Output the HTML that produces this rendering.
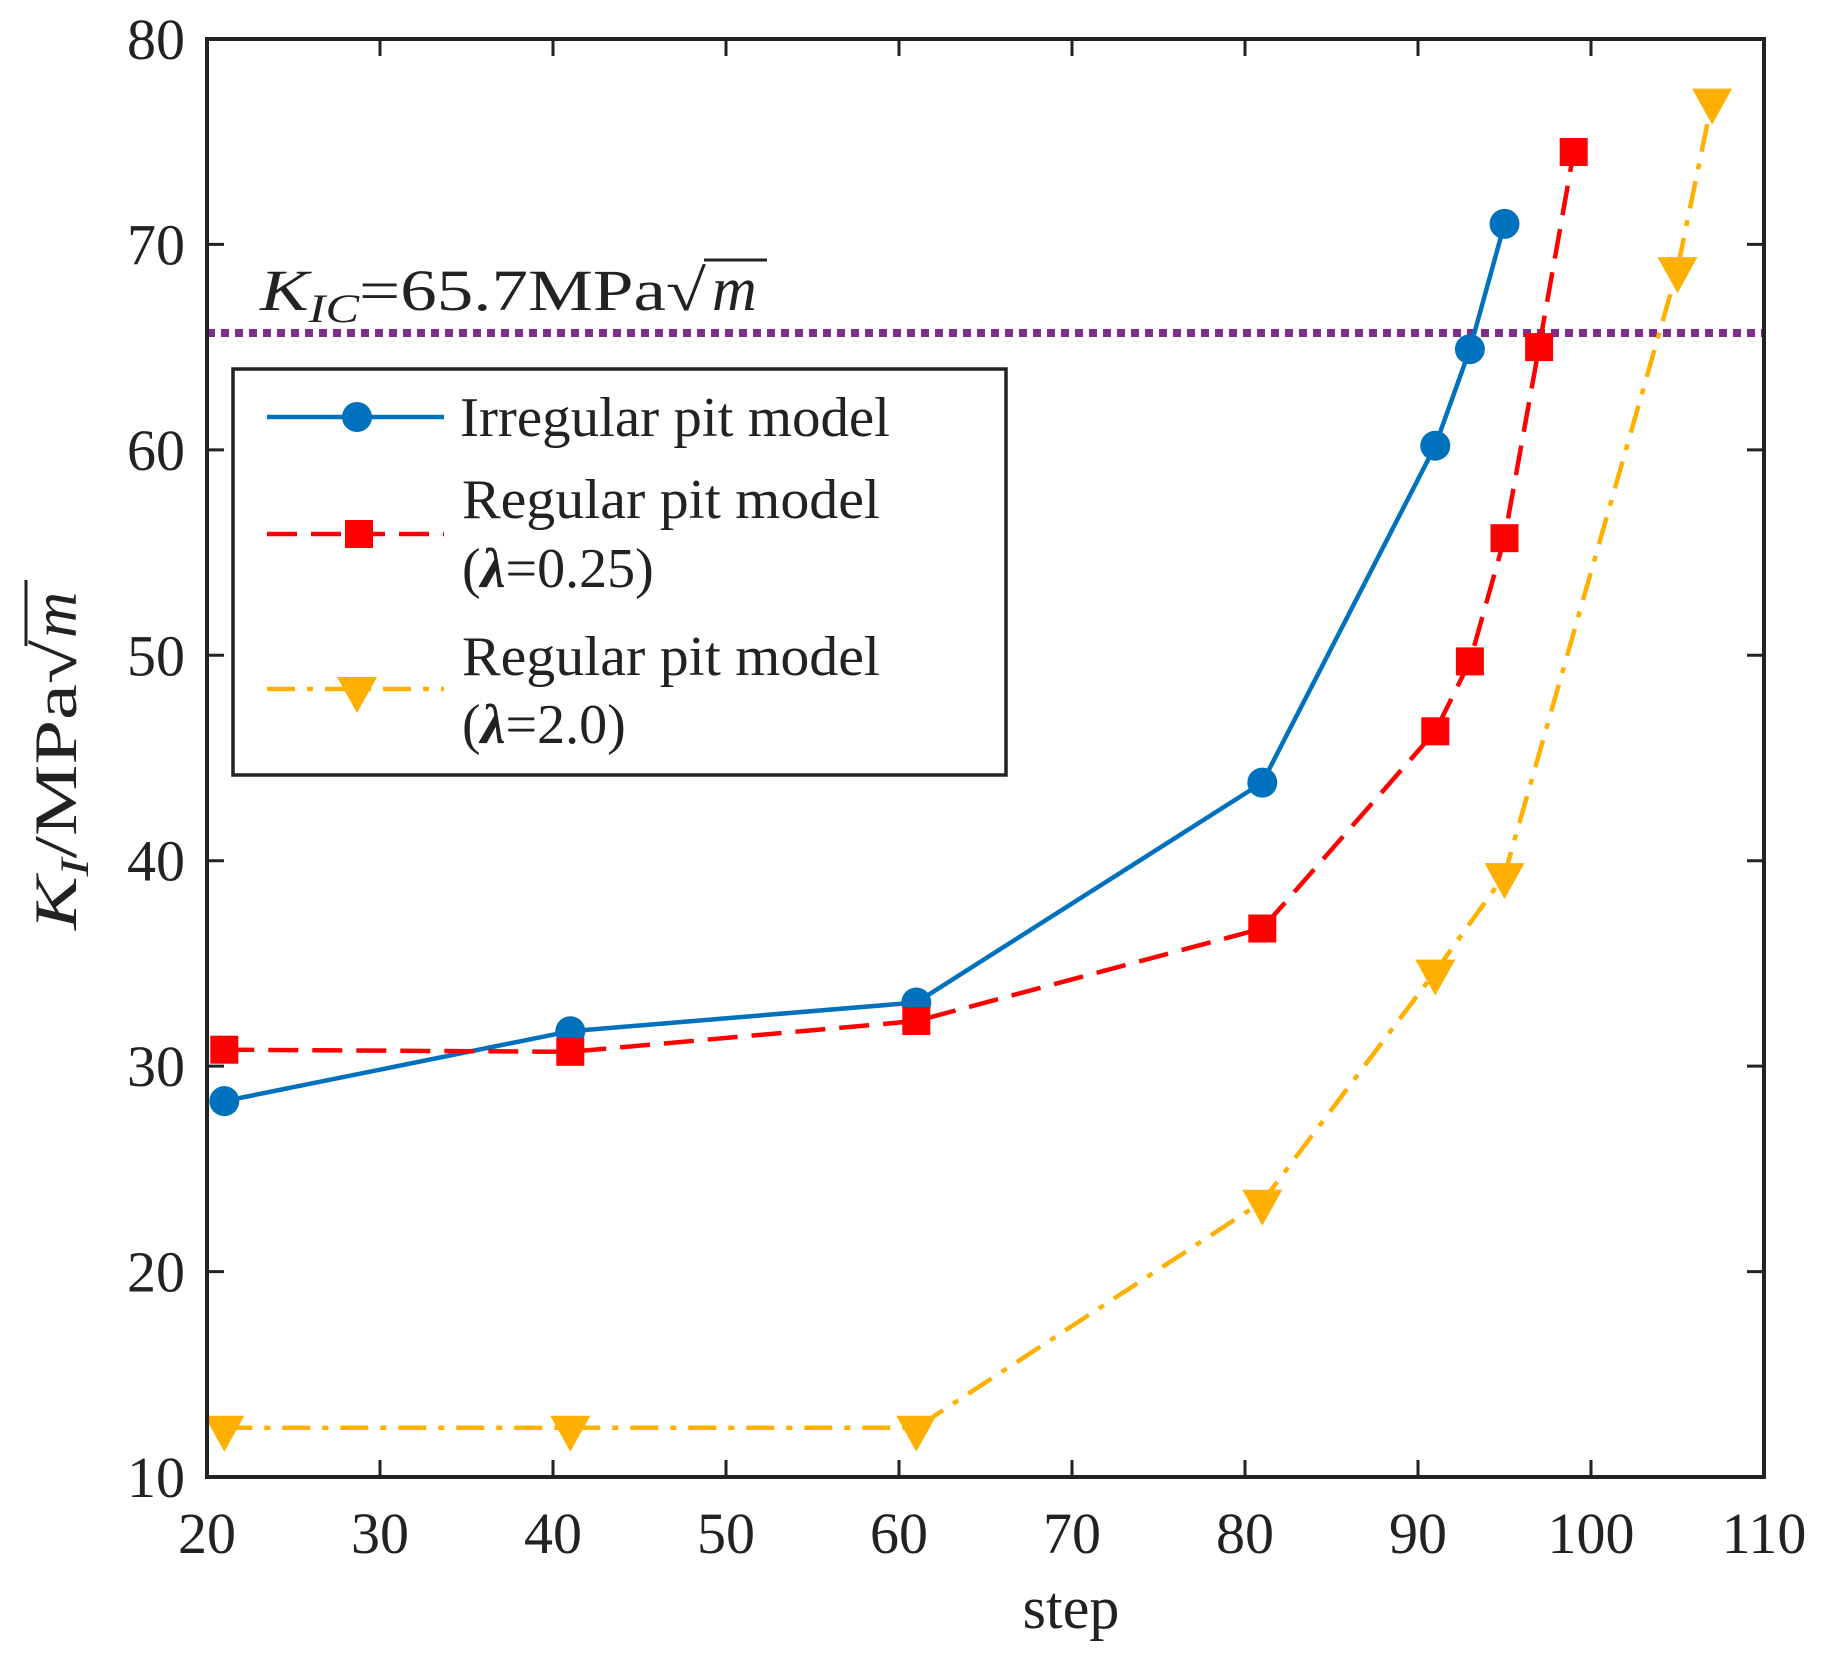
<!DOCTYPE html>
<html><head><meta charset="utf-8"><style>
html,body{margin:0;padding:0;background:#fff;}
svg{display:block;}
text{font-family:"Liberation Serif",serif;fill:#222;}
</style></head><body>
<svg width="1822" height="1656" viewBox="0 0 1822 1656" xmlns="http://www.w3.org/2000/svg">
<rect width="1822" height="1656" fill="#fff"/>
<line x1="207" y1="333" x2="1764" y2="333" stroke="#7E2F8E" stroke-width="8" stroke-dasharray="8 6"/>
<polyline fill="none" stroke="#0072BD" stroke-width="4.5" points="224.3,1101.1 570.3,1031.2 916.3,1002.5 1262.3,782.6 1435.3,445.7 1469.9,349.2 1504.5,223.9"/>
<polyline fill="none" stroke="#FF0000" stroke-width="4.5" stroke-dasharray="30 14" points="224.3,1049.7 570.3,1051.8 916.3,1021 1262.3,928.5 1435.3,731.3 1469.9,661.4 1504.5,538.2 1539.1,347.1 1573.7,152"/>
<polyline fill="none" stroke="#FFB000" stroke-width="4.5" stroke-dasharray="28 12 6 12" points="224.3,1427.7 570.3,1427.7 916.3,1427.7 1262.3,1201.7 1435.3,971.6 1504.5,875.1 1677.5,269.1 1712.1,100.6"/>
<g fill="#0072BD">
<circle cx="224.3" cy="1101.1" r="15"/><circle cx="570.3" cy="1031.2" r="15"/><circle cx="916.3" cy="1002.5" r="15"/><circle cx="1262.3" cy="782.6" r="15"/><circle cx="1435.3" cy="445.7" r="15"/><circle cx="1469.9" cy="349.2" r="15"/><circle cx="1504.5" cy="223.9" r="15"/>
</g>
<g fill="#FF0000">
<rect x="210.3" y="1035.7" width="28" height="28"/><rect x="556.3" y="1037.8" width="28" height="28"/><rect x="902.3" y="1007" width="28" height="28"/><rect x="1248.3" y="914.5" width="28" height="28"/><rect x="1421.3" y="717.3" width="28" height="28"/><rect x="1455.9" y="647.4" width="28" height="28"/><rect x="1490.5" y="524.2" width="28" height="28"/><rect x="1525.1" y="333.1" width="28" height="28"/><rect x="1559.7" y="138" width="28" height="28"/>
</g>
<g fill="#FFB000">
<path d="M204.3,1415.7h40l-20,36z"/><path d="M550.3,1415.7h40l-20,36z"/><path d="M896.3,1415.7h40l-20,36z"/><path d="M1242.3,1189.7h40l-20,36z"/><path d="M1415.3,959.6h40l-20,36z"/><path d="M1484.5,863.1h40l-20,36z"/><path d="M1657.5,257.1h40l-20,36z"/><path d="M1692.1,88.6h40l-20,36z"/>
</g>
<text x="260" y="310" font-size="58" textLength="446" lengthAdjust="spacingAndGlyphs"><tspan font-style="italic">K</tspan><tspan font-style="italic" font-size="40" dy="12">IC</tspan><tspan dy="-12">=65.7MPa√</tspan></text>
<text x="712" y="310" font-size="62" font-style="italic">m</text>
<line x1="704" y1="260" x2="767" y2="260" stroke="#222" stroke-width="3"/>
<rect x="233" y="369" width="773" height="406" fill="#fff" stroke="#222" stroke-width="3.5"/>
<line x1="267" y1="417" x2="444" y2="417" stroke="#0072BD" stroke-width="4.5"/>
<circle cx="357" cy="417" r="15" fill="#0072BD"/>
<text x="460" y="436" font-size="56" textLength="430" lengthAdjust="spacingAndGlyphs">Irregular pit model</text>
<line x1="267" y1="534" x2="444" y2="534" stroke="#FF0000" stroke-width="4.5" stroke-dasharray="30 14"/>
<rect x="345" y="520" width="28" height="28" fill="#FF0000"/>
<text x="462" y="518" font-size="56" textLength="418" lengthAdjust="spacingAndGlyphs">Regular pit model</text>
<text x="462" y="587" font-size="56">(<tspan font-style="italic" font-weight="bold">λ</tspan>=0.25)</text>
<line x1="267" y1="689" x2="444" y2="689" stroke="#FFB000" stroke-width="4.5" stroke-dasharray="28 12 6 12"/>
<path d="M337,677h40l-20,36z" fill="#FFB000"/>
<text x="462" y="675" font-size="56" textLength="418" lengthAdjust="spacingAndGlyphs">Regular pit model</text>
<text x="462" y="743" font-size="56">(<tspan font-style="italic" font-weight="bold">λ</tspan>=2.0)</text>
<rect x="207" y="39" width="1557" height="1438" fill="none" stroke="#222" stroke-width="4"/>
<g stroke="#222" stroke-width="3">
<line x1="380" y1="1477" x2="380" y2="1460"/><line x1="553" y1="1477" x2="553" y2="1460"/><line x1="726" y1="1477" x2="726" y2="1460"/><line x1="899" y1="1477" x2="899" y2="1460"/><line x1="1072" y1="1477" x2="1072" y2="1460"/><line x1="1245" y1="1477" x2="1245" y2="1460"/><line x1="1418" y1="1477" x2="1418" y2="1460"/><line x1="1591" y1="1477" x2="1591" y2="1460"/>
<line x1="380" y1="39" x2="380" y2="56"/><line x1="553" y1="39" x2="553" y2="56"/><line x1="726" y1="39" x2="726" y2="56"/><line x1="899" y1="39" x2="899" y2="56"/><line x1="1072" y1="39" x2="1072" y2="56"/><line x1="1245" y1="39" x2="1245" y2="56"/><line x1="1418" y1="39" x2="1418" y2="56"/><line x1="1591" y1="39" x2="1591" y2="56"/>
<line x1="207" y1="1271.6" x2="224" y2="1271.6"/><line x1="207" y1="1066.1" x2="224" y2="1066.1"/><line x1="207" y1="860.7" x2="224" y2="860.7"/><line x1="207" y1="655.3" x2="224" y2="655.3"/><line x1="207" y1="449.9" x2="224" y2="449.9"/><line x1="207" y1="244.4" x2="224" y2="244.4"/>
<line x1="1764" y1="1271.6" x2="1747" y2="1271.6"/><line x1="1764" y1="1066.1" x2="1747" y2="1066.1"/><line x1="1764" y1="860.7" x2="1747" y2="860.7"/><line x1="1764" y1="655.3" x2="1747" y2="655.3"/><line x1="1764" y1="449.9" x2="1747" y2="449.9"/><line x1="1764" y1="244.4" x2="1747" y2="244.4"/>
</g>
<g font-size="58" text-anchor="middle">
<text x="207" y="1553">20</text><text x="380" y="1553">30</text><text x="553" y="1553">40</text><text x="726" y="1553">50</text><text x="899" y="1553">60</text><text x="1072" y="1553">70</text><text x="1245" y="1553">80</text><text x="1418" y="1553">90</text><text x="1591" y="1553">100</text><text x="1764" y="1553">110</text>
</g>
<g font-size="58" text-anchor="end">
<text x="185" y="1497">10</text><text x="185" y="1291.6">20</text><text x="185" y="1086.1">30</text><text x="185" y="880.7">40</text><text x="185" y="675.3">50</text><text x="185" y="469.9">60</text><text x="185" y="264.4">70</text><text x="185" y="59">80</text>
</g>
<text x="1071" y="1628" font-size="60" text-anchor="middle">step</text>
<g transform="translate(76,930) rotate(-90)">
<text x="0" y="0" font-size="60" textLength="290" lengthAdjust="spacingAndGlyphs"><tspan font-style="italic">K</tspan><tspan font-style="italic" font-size="40" dy="12">I</tspan><tspan dy="-12">/MPa√</tspan></text>
<text x="292" y="0" font-size="64" font-style="italic">m</text>
<line x1="284" y1="-50" x2="350" y2="-50" stroke="#222" stroke-width="3"/>
</g>
</svg>
</body></html>
